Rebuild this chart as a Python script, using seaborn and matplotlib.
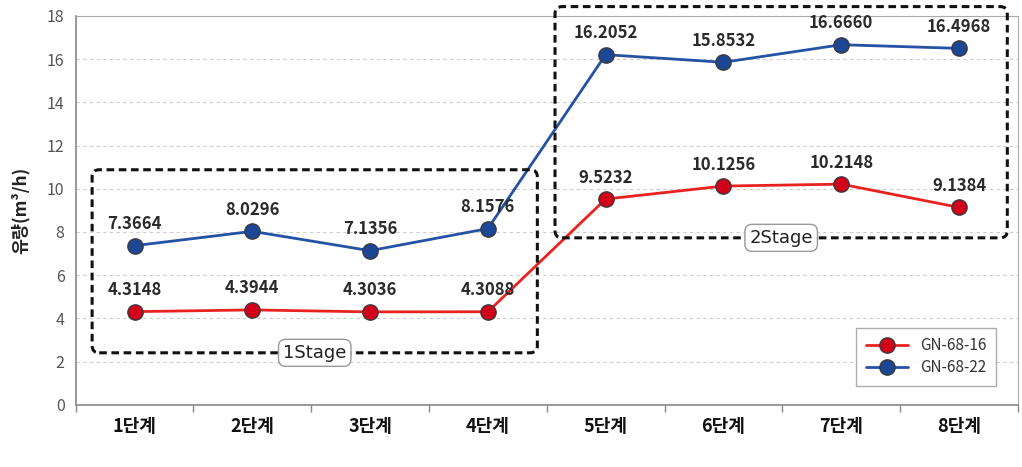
import matplotlib
matplotlib.use("Agg")
import matplotlib.pyplot as plt
import seaborn as sns
import pandas as pd
from matplotlib.patches import FancyBboxPatch

categories = ["1단계", "2단계", "3단계", "4단계", "5단계", "6단계", "7단계", "8단계"]
gn_68_16 = [4.3148, 4.3944, 4.3036, 4.3088, 9.5232, 10.1256, 10.2148, 9.1384]
gn_68_22 = [7.3664, 8.0296, 7.1356, 8.1576, 16.2052, 15.8532, 16.6660, 16.4968]
series_names = ["GN-68-16", "GN-68-22"]
stage_labels = ["1Stage", "2Stage"]

sns.set_theme(style="white")
plt.rcParams['font.family'] = ['Noto Sans CJK KR', 'DejaVu Sans']

df = pd.DataFrame({
    "stage": categories * 2,
    "x": list(range(len(categories))) * 2,
    "value": gn_68_16 + gn_68_22,
    "series": [series_names[0]] * len(categories) + [series_names[1]] * len(categories),
})

fig = plt.figure(figsize=(10.22, 4.67), dpi=100)
ax = fig.add_axes([0.074, 0.133, 0.922, 0.833])

palette = {series_names[0]: "#e8231f", series_names[1]: "#2452a4"}
mfc = {series_names[0]: "#d3001a", series_names[1]: "#1c4797"}
for name in series_names:
    sub = df[df.series == name]
    sns.lineplot(data=sub, x="x", y="value", ax=ax, color=palette[name], lw=2,
                 marker="o", markersize=11, markerfacecolor=mfc[name],
                 markeredgecolor="#3a3a3a", markeredgewidth=1.0, label=name)

ax.set_xlim(-0.5, 7.5)
ax.set_ylim(0, 18)
ax.set_yticks(range(0, 19, 2))
ax.set_xticks(range(len(categories)))
ax.set_xticklabels(categories, fontsize=13, fontweight="bold", color="#111111")
ax.tick_params(axis="y", labelsize=11.5, labelcolor="#555555", length=0, pad=8)
ax.tick_params(axis="x", length=0, pad=9)
ax.set_xticks([i + 0.5 for i in range(-1, 8)], minor=True)
ax.tick_params(axis="x", which="minor", length=5, color="#888888", bottom=True)
ax.yaxis.grid(True, ls=(0, (3, 3)), color="#cccccc", lw=0.8)
ax.set_xlabel("")
ax.set_ylabel("유량(m³/h)", fontsize=12.5, fontweight="bold", color="#222222", labelpad=12)
for s in ["left", "bottom"]:
    ax.spines[s].set_color("#888888")
    ax.spines[s].set_linewidth(1.2)
for s in ["top", "right"]:
    ax.spines[s].set_color("#aaaaaa")
    ax.spines[s].set_linewidth(0.8)

# value labels
for i, v in enumerate(gn_68_16):
    ax.annotate(f"{v:.4f}", (i, v), xytext=(0, 9), textcoords="offset points",
                ha="center", va="bottom", fontsize=12, fontweight="bold", color="#2a2a2a")
for i, v in enumerate(gn_68_22):
    ax.annotate(f"{v:.4f}", (i, v), xytext=(0, 9), textcoords="offset points",
                ha="center", va="bottom", fontsize=12, fontweight="bold", color="#2a2a2a")

# stage boxes
boxes = [(-0.36, 2.41, 3.42, 10.88), (3.57, 7.73, 7.41, 18.43)]
for (x0, y0, x1, y1), lab in zip(boxes, stage_labels):
    p = FancyBboxPatch((x0, y0), x1 - x0, y1 - y0,
                       boxstyle="round,pad=0,rounding_size=0.06",
                       fill=False, ls=(0, (2.5, 1.5)), lw=2.2, ec="#111111",
                       clip_on=False, zorder=5, mutation_aspect=1 / 0.18)
    ax.add_patch(p)
    xc = x0 + (x1 - x0) * 0.5
    ax.text(xc, y0, lab, ha="center", va="center", fontsize=13, color="#222222",
            family=["DejaVu Sans"], zorder=6,
            bbox=dict(boxstyle="round,pad=0.25,rounding_size=0.4", fc="white",
                      ec="#999999", lw=1.0))

leg = ax.legend(loc="lower right", bbox_to_anchor=(0.985, 0.03), fontsize=11,
                frameon=True, fancybox=False, edgecolor="#999999",
                handlelength=2.8, borderpad=0.6, labelspacing=0.35, markerscale=1.0)
leg.get_frame().set_linewidth(1.0)
for t in leg.get_texts():
    t.set_color("#333333")

fig.savefig("out.png", dpi=100)
